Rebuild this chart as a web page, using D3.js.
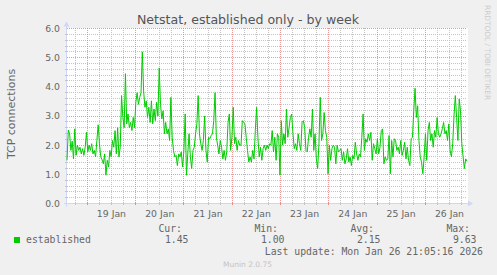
<!DOCTYPE html>
<html>
<head>
<meta charset="utf-8">
<script src="https://cdn.jsdelivr.net/npm/d3@7"></script>
<style>
  body { margin: 0; background: #f0f0f0; }
  svg { display: block; font-family: "DejaVu Sans", sans-serif; }
  .mono { font-family: "DejaVu Sans Mono", monospace; }
  .grid line { shape-rendering: crispEdges; }
</style>
</head>
<body>
<svg id="chart" width="497" height="275"></svg>
<script>
// time window of the week graph (UTC)
const startTime = Date.UTC(2026, 0, 18, 13, 55);
const endTime = Date.UTC(2026, 0, 26, 20, 43);

// established TCP connections left to right
const established = [
  1.48, 2.52, 2.39, 1.82, 2.14, 1.53, 2.56, 1.65, 2.0, 1.82, 1.93, 1.7, 1.88, 1.65,
  1.93, 2.44, 1.77, 2.0, 1.82, 2.05, 1.7, 1.82, 1.6, 2.16, 2.7, 2.05, 1.6, 1.5, 1.36, 1.7,
  0.97, 1.48, 1.25, 1.82, 1.6, 2.16, 1.93, 2.5, 1.7, 2.6, 1.6, 1.93, 3.7, 2.95, 2.6, 4.45,
  2.73, 3.07, 2.6, 2.78, 2.5,
  2.95, 2.6, 3.47, 3.8, 3.4, 3.64, 3.8, 5.2, 3.86, 3.3, 3.52, 2.95, 3.3, 2.78, 3.52, 2.73,
  3.24, 2.84, 3.47, 3.0, 4.65, 3.4, 2.9, 3.18, 2.39,
  2.78, 2.39, 2.56, 2.16, 3.64, 2.27, 1.82, 1.6, 1.65, 1.3,
  1.7, 1.6, 1.77, 1.25, 1.82, 3.07, 0.97, 1.7, 2.39, 1.6,
  1.2, 1.82, 1.93, 2.39, 2.73, 3.7, 2.39, 2.05, 1.82, 2.16,
  3.0, 1.82, 1.42, 2.27, 2.22, 2.33, 2.39, 2.84, 3.8, 2.27,
  2.0, 1.7, 2.16, 1.93, 1.53, 1.82, 1.48, 1.77, 2.78, 3.07,
  1.82, 2.27, 3.3, 2.05, 2.27, 1.82, 2.16, 2.0, 2.0, 2.84,
  2.78, 2.73, 2.27, 1.82, 1.42, 1.6, 1.42, 1.82, 1.53, 2.5,
  3.3, 2.27, 1.6, 1.93, 1.48, 1.88, 2.0,
  1.82, 2.0, 1.88, 2.05, 2.0, 2.5, 1.77, 2.27, 1.48, 2.39,
  2.27, 0.97, 2.84, 2.0, 2.39, 2.05, 3.24, 2.27, 2.6, 2.95,
  3.07, 2.39, 1.88, 2.05, 1.82, 2.39, 2.05, 1.82, 2.78, 2.84,
  2.6, 1.82, 1.77, 2.27, 2.56, 2.27, 3.24, 1.82, 2.39, 1.53,
  1.2, 2.05, 3.64, 2.16, 2.39, 3.12, 2.5, 2.27, 1.02, 2.0,
  1.48, 1.88, 2.0, 1.93, 1.36, 2.0, 1.77, 1.82, 1.88, 1.48,
  1.77, 1.36, 1.53, 1.88, 1.42, 1.6, 1.3, 1.65, 1.53, 2.1,
  1.7, 1.48, 1.7, 1.6, 2.27, 3.07, 1.82, 2.22,
  2.1, 2.39, 2.16, 2.44, 1.48, 2.05, 1.88, 1.7, 2.22, 1.7,
  1.93, 2.5, 2.56, 1.36, 1.6, 1.48, 1.53, 2.33, 1.02, 2.16,
  1.6, 2.22, 2.16, 1.82, 1.93, 1.7, 2.16, 1.65, 1.82, 2.1,
  1.53, 1.93, 1.48, 1.3, 2.22, 2.27, 3.18, 3.95, 2.95, 3.35,
  2.16, 1.6, 1.42, 1.02, 1.6, 2.39, 1.48, 2.5, 2.78, 2.16,
  2.39, 1.93, 2.5, 2.27, 2.95, 2.39, 2.27, 2.39, 2.56, 2.78,
  2.39, 2.5, 2.16, 2.73, 1.82, 1.6, 2.05, 3.0, 3.7, 2.95,
  2.16, 3.58, 3.18, 2.05, 1.6, 1.2, 1.53, 1.45
];

const dayLabels = ["19 Jan", "20 Jan", "21 Jan", "22 Jan", "23 Jan", "24 Jan", "25 Jan", "26 Jan"];
const yTicks = [0, 1, 2, 3, 4, 5, 6];
const legendHeads = ["Cur:", "Min:", "Avg:", "Max:"];
const legendValues = ["1.45", "1.00", "2.15", "9.63"];

const svg = d3.select('#chart');
const plotLeft = 67, plotRight = 467, plotTop = 28.5, plotBottom = 203.5;

const x = d3.scaleUtc()
    .domain([new Date(startTime), new Date(endTime)])
    .range([plotLeft, plotRight]);

const y = d3.scaleLinear()
    .domain([0, 6])
    .range([plotBottom, plotTop]);

const snap = (v) => Math.floor(v) + 0.5;

// canvas
svg.append('rect')
    .attr('x', plotLeft).attr('y', plotTop - 0.5)
    .attr('width', plotRight - plotLeft + 1).attr('height', plotBottom - plotTop + 1)
    .attr('fill', '#ffffff');

const minorCol = '#c4c4c4';
const majorCol = '#e48080';

const grid = svg.append('g').attr('class', 'grid');

// grid positions
const yMinor = d3.range(0, 31).filter((i) => i % 5 !== 0).map((i) => i / 5);
const sixHours = d3.utcHour.every(6).range(new Date(startTime), new Date(endTime))
    .filter((d) => d.getUTCHours() !== 0);
const days = d3.utcDay.range(new Date(startTime), new Date(endTime));

grid.append('g').selectAll('line')
    .data(yMinor).enter().append('line')
    .attr('x1', plotLeft).attr('x2', plotRight)
    .attr('y1', (d) => snap(y(d))).attr('y2', (d) => snap(y(d)))
    .attr('stroke', minorCol).attr('stroke-dasharray', '1,1');

grid.append('g').selectAll('line')
    .data(sixHours).enter().append('line')
    .attr('x1', (d) => snap(x(d))).attr('x2', (d) => snap(x(d)))
    .attr('y1', plotTop - 0.5).attr('y2', plotBottom)
    .attr('stroke', minorCol).attr('stroke-dasharray', '1,1');

grid.append('g').selectAll('line')
    .data(yTicks.filter((v) => v > 0)).enter().append('line')
    .attr('x1', plotLeft).attr('x2', plotRight)
    .attr('y1', (d) => snap(y(d))).attr('y2', (d) => snap(y(d)))
    .attr('stroke', majorCol).attr('stroke-opacity', 0.8).attr('stroke-dasharray', '1,1');

grid.append('g').selectAll('line')
    .data(days).enter().append('line')
    .attr('x1', (d) => snap(x(d))).attr('x2', (d) => snap(x(d)))
    .attr('y1', plotTop - 0.5).attr('y2', plotBottom)
    .attr('stroke', majorCol).attr('stroke-opacity', 0.8).attr('stroke-dasharray', '1,1');

// axes
const axisCol = '#cfd6f8';
svg.append('line')
    .attr('x1', plotLeft - 3).attr('x2', plotRight + 2)
    .attr('y1', plotBottom).attr('y2', plotBottom)
    .attr('stroke', axisCol);
svg.append('line')
    .attr('x1', plotLeft - 0.5).attr('x2', plotLeft - 0.5)
    .attr('y1', plotBottom + 3).attr('y2', plotTop - 3)
    .attr('stroke', axisCol);
svg.append('path')
    .attr('d', `M${plotRight + 1},${plotBottom - 3} L${plotRight + 6},${plotBottom} L${plotRight + 1},${plotBottom + 3} Z`)
    .attr('fill', axisCol);
svg.append('path')
    .attr('d', `M${plotLeft - 3.5},${plotTop - 2} L${plotLeft - 0.5},${plotTop - 7} L${plotLeft + 2.5},${plotTop - 2} Z`)
    .attr('fill', axisCol);

// small axis ticks
const ticks = svg.append('g').attr('class', 'grid');
ticks.append('g').selectAll('line')
    .data(sixHours).enter().append('line')
    .attr('x1', (d) => snap(x(d))).attr('x2', (d) => snap(x(d)))
    .attr('y1', plotBottom - 1.5).attr('y2', plotBottom + 1.5)
    .attr('stroke', '#c4c4c4');
ticks.append('g').selectAll('line')
    .data(days).enter().append('line')
    .attr('x1', (d) => snap(x(d))).attr('x2', (d) => snap(x(d)))
    .attr('y1', plotBottom - 1.5).attr('y2', plotBottom + 1.5)
    .attr('stroke', '#ee8888');
ticks.append('g').selectAll('line')
    .data(yMinor).enter().append('line')
    .attr('x1', plotLeft - 2).attr('x2', plotLeft + 1)
    .attr('y1', (d) => snap(y(d))).attr('y2', (d) => snap(y(d)))
    .attr('stroke', '#c4c4c4');

// the series
const step = (endTime - startTime) / (established.length - 1);
const line = d3.line()
    .x((d, i) => x(new Date(startTime + i * step)))
    .y((d) => y(d));

svg.append('path')
    .datum(established)
    .attr('d', line)
    .attr('fill', 'none')
    .attr('stroke', '#00cc00')
    .attr('stroke-width', 1);

// labels
const txt = '#666666';
svg.append('g').selectAll('text')
    .data(yTicks).enter().append('text')
    .attr('x', 60).attr('y', (d) => y(d) + 3.4)
    .attr('text-anchor', 'end')
    .attr('font-size', 9.3).attr('fill', txt)
    .text((d) => d.toFixed(1));

svg.append('g').selectAll('text')
    .data(days.slice(0, dayLabels.length)).enter().append('text')
    .attr('x', (d) => x(d3.utcHour.offset(d, 12)))
    .attr('y', 216.5)
    .attr('text-anchor', 'middle')
    .attr('font-size', 9.3).attr('fill', txt)
    .text((d, i) => dayLabels[i]);

svg.append('text')
    .attr('x', 248).attr('y', 23.5)
    .attr('text-anchor', 'middle')
    .attr('font-size', 12.6).attr('fill', '#555555')
    .text('Netstat, established only - by week');

svg.append('text')
    .attr('transform', 'translate(15,114) rotate(-90)')
    .attr('text-anchor', 'middle')
    .attr('font-size', 11).attr('fill', txt)
    .text('TCP connections');

svg.append('text')
    .attr('transform', 'translate(485,5) rotate(90)')
    .attr('font-size', 7.4).attr('fill', '#cccccc')
    .text('RRDTOOL / TOBI OETIKER');

// legend
svg.append('rect')
    .attr('x', 14).attr('y', 237)
    .attr('width', 6).attr('height', 6)
    .attr('fill', '#00cc00');

const legend = svg.append('g').attr('class', 'mono')
    .attr('font-size', 9.8).attr('fill', txt);

legend.append('text').attr('x', 26).attr('y', 243).text('established');

const colRight = [182, 278, 374, 470];
legendHeads.forEach((h, i) => {
    legend.append('text')
        .attr('x', colRight[i]).attr('y', 231.5)
        .attr('text-anchor', 'end')
        .text(h);
    legend.append('text')
        .attr('x', colRight[i] + 6.5).attr('y', 243)
        .attr('text-anchor', 'end')
        .text(legendValues[i]);
});

legend.append('text')
    .attr('x', 483).attr('y', 255)
    .attr('text-anchor', 'end')
    .text('Last update: Mon Jan 26 21:05:16 2026');

svg.append('text')
    .attr('x', 247.5).attr('y', 266.5)
    .attr('text-anchor', 'middle')
    .attr('font-size', 7.5).attr('fill', '#c4c4c4')
    .text('Munin 2.0.75');
</script>
</body>
</html>
